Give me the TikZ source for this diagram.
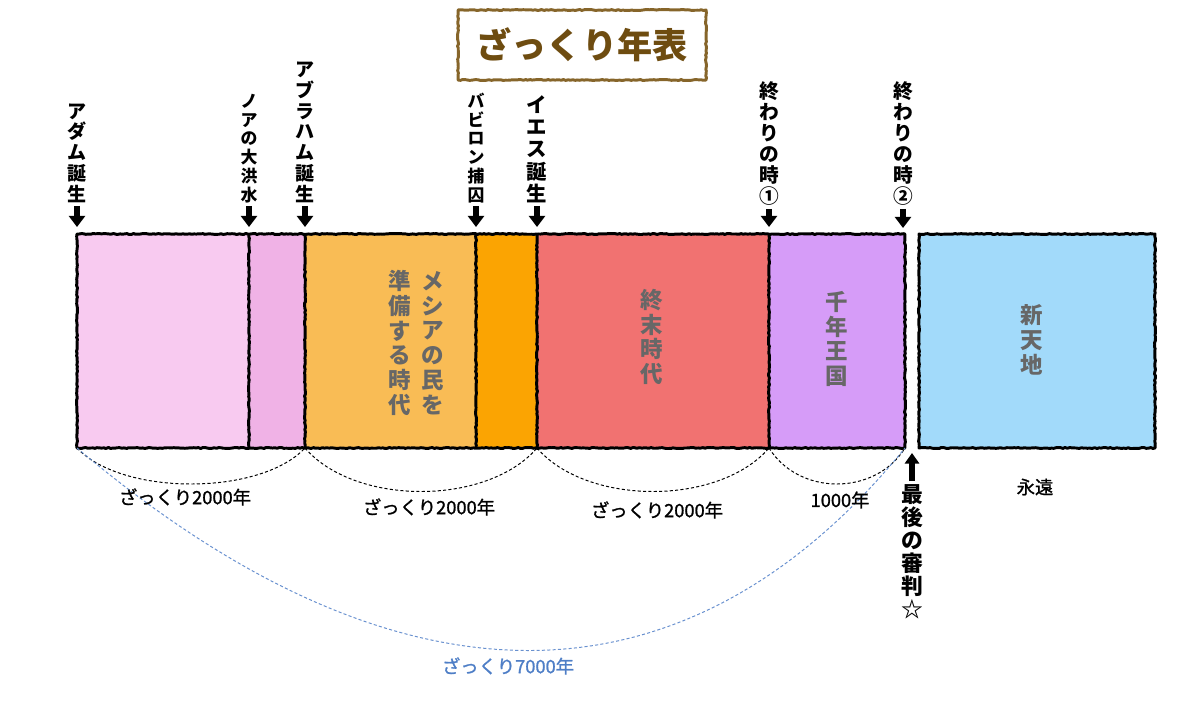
\documentclass[tikz,border=0pt]{standalone}
\usepackage{fontspec}
\usepackage{xcolor}
\newfontfamily\jp{Noto Sans CJK JP}
\newfontfamily\jpsemi{Noto Sans CJK JP}[FakeBold=1.2]
\usetikzlibrary{arrows.meta,decorations.pathmorphing}

\definecolor{eraPinkA}{HTML}{F8CAF0}
\definecolor{eraPinkB}{HTML}{F0B2E6}
\definecolor{eraOrangeA}{HTML}{F9BC55}
\definecolor{eraOrangeB}{HTML}{FBA402}
\definecolor{eraRed}{HTML}{F17271}
\definecolor{eraPurple}{HTML}{D69CF8}
\definecolor{eraSky}{HTML}{A2DAFA}
\definecolor{eraGray}{HTML}{676767}
\definecolor{titleBrown}{HTML}{6E4C10}
\definecolor{frameBrown}{HTML}{86652A}
\definecolor{spanBlue}{HTML}{4E7EC6}

\tikzset{
  crayon/.style={line width=2.1pt, line join=round, decorate,
    decoration={random steps,segment length=1.6pt,amplitude=0.35pt}},
  downarrow/.style={line width=4pt, -{Triangle[width=11.5pt,length=8pt]}},
  toplabel/.style={font=\jp\bfseries\fontsize{13.5}{14.8}\selectfont, align=center, anchor=south, inner sep=0pt},
  smalllabel/.style={toplabel, font=\jp\bfseries\fontsize{12}{13.3}\selectfont},
  midtext/.style={font=\jp\bfseries\fontsize{16}{17.6}\selectfont, text=eraGray, align=center, inner sep=0pt},
  spanlabel/.style={font=\jpsemi\fontsize{13}{14}\selectfont, inner sep=0pt},
  arcline/.style={line width=0.7pt, dash pattern=on 2.2pt off 1.6pt},
}

\begin{document}
\begin{tikzpicture}[x=0.025cm,y=-0.025cm]
  \useasboundingbox (0,0) rectangle (1200,711);

  % Title
  \node[draw=frameBrown, crayon, minimum width=6.2cm, minimum height=1.75cm,
        font=\jp\bfseries\fontsize{25}{28}\selectfont, text=titleBrown] (title) at (582,45) {ざっくり年表};

  % Era boundaries
  \foreach \x [count=\i from 0] in {77,249,305,476,537,769,905} {
    \coordinate (t\i) at (\x,234);
    \coordinate (u\i) at (\x,448);
    \coordinate (a\i) at (\x,227);
  }
  \coordinate (n0) at (919,234);
  \coordinate (n1) at (1155,448);

  % Timeline blocks
  \foreach \a/\b/\c in {0/1/eraPinkA,1/2/eraPinkB,2/3/eraOrangeA,3/4/eraOrangeB,4/5/eraRed,5/6/eraPurple}
    \fill[\c] (t\a) rectangle (u\b);
  \fill[eraSky] (n0) rectangle (n1);
  \draw[crayon] (t0) rectangle (u6);
  \foreach \i in {1,...,5}
    \draw[crayon] (t\i) -- (u\i);
  \draw[crayon] (n0) rectangle (n1);

  % Era names
  \node[midtext] (messiahA) at (433,343) {メ\\シ\\ア\\の\\民\\を};
  \node[midtext] (messiahB) at (400,343) {準\\備\\す\\る\\時\\代};
  \node[midtext] (lastdays) at (652,337) {終\\末\\時\\代};
  \node[midtext] (millennium) at (837,339) {千\\年\\王\\国};
  \node[midtext] (newworld) at (1032,340) {新\\天\\地};

  % Events above the line
  \node[toplabel] (adam) at (77,203) {ア\\ダ\\ム\\誕\\生};
  \node[smalllabel] (noah) at (249,203) {ノ\\ア\\の\\大\\洪\\水};
  \node[toplabel] (abraham) at (305,203) {ア\\ブ\\ラ\\ハ\\ム\\誕\\生};
  \node[smalllabel] (babylon) at (476,203) {バ\\ビ\\ロ\\ン\\捕\\囚};
  \node[toplabel, font=\jp\bfseries\fontsize{14.5}{15.8}\selectfont] (jesus) at (537,203) {イ\\エ\\ス\\誕\\生};
  \node[toplabel, font=\jp\bfseries\fontsize{14}{15}\selectfont] (endA) at (769,206) {終\\わ\\り\\の\\時\\①};
  \node[toplabel, font=\jp\bfseries\fontsize{14}{15}\selectfont] (endB) at (903,206) {終\\わ\\り\\の\\時\\②};
  \coordinate (a7) at (903,228);
  \foreach \n/\c in {adam/a0,noah/a1,abraham/a2,babylon/a3,jesus/a4,endA/a5,endB/a7}
    \draw[downarrow, shorten <=2pt] (\n) -- (\c);

  % Spans below the line
  \draw[arcline] (u0) .. controls +(45,48) and +(-45,48) .. (u2);
  \draw[arcline] (u2) .. controls +(50,58) and +(-50,58) .. (u4);
  \draw[arcline] (u4) .. controls +(50,58) and +(-50,58) .. (u5);
  \draw[arcline] (u5) .. controls +(30,48) and +(-30,48) .. (u6);
  \draw[arcline, spanBlue!85] (u0) .. controls +(320,270) and +(-220,270) .. (u6);

  \node[spanlabel] (spanA) at (185,497) {ざっくり2000年};
  \node[spanlabel] (spanB) at (429,507) {ざっくり2000年};
  \node[spanlabel] (spanC) at (657,510) {ざっくり2000年};
  \node[spanlabel] (spanD) at (840,500) {1000年};
  \node[spanlabel] (forever) at (1035,487) {永遠};
  \node[spanlabel, text=spanBlue] (spanAll) at (508,666) {ざっくり7000年};

  % Last judgement
  \node[toplabel, anchor=north, font=\jp\bfseries\fontsize{15.5}{16.4}\selectfont] (judge) at (912,484) {最\\後\\の\\審\\判\\☆};
  \coordinate (jtop) at (912,453);
  \draw[downarrow, line width=3.6pt, -{Triangle[width=10pt,length=7.5pt]}, shorten <=2pt] (judge) -- (jtop);
\end{tikzpicture}
\end{document}
